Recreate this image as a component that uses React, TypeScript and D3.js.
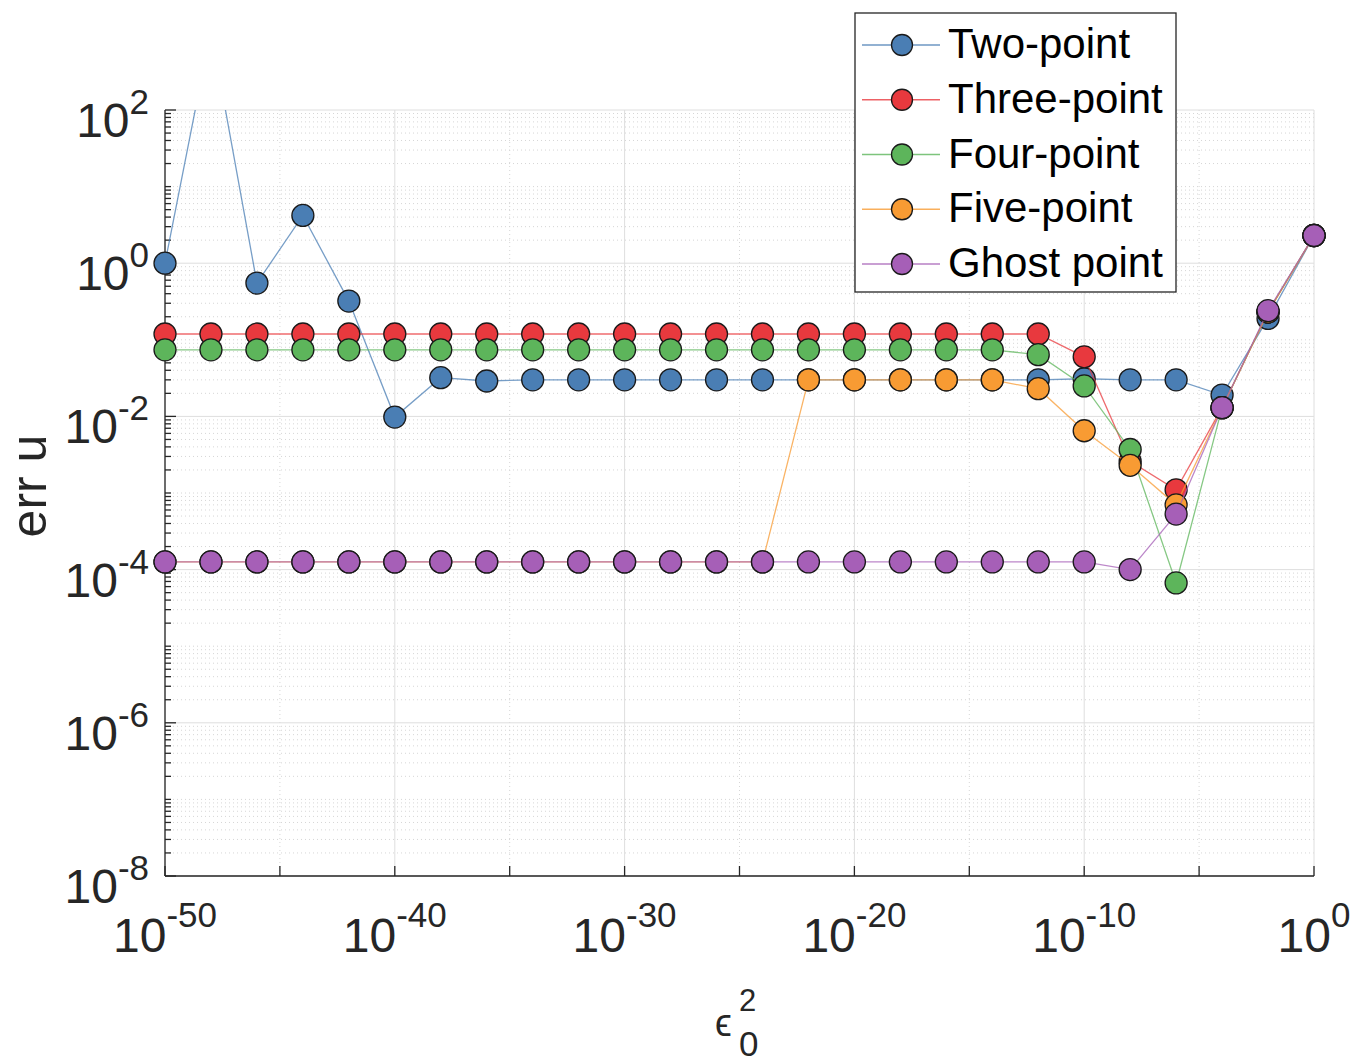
import React from 'react';
import * as d3 from 'd3';

// x values are 10^e for these exponents
const xExponents = [-50, -48, -46, -44, -42, -40, -38, -36, -34, -32, -30, -28, -26, -24, -22, -20, -18, -16, -14, -12, -10, -8, -6, -4, -2, 0];

const twoPoint = [1.0, 1100, 0.55, 4.2, 0.32, 0.0098, 0.032, 0.029, 0.030, 0.030, 0.030, 0.030, 0.030, 0.030, 0.030, 0.030, 0.030, 0.030, 0.030, 0.030, 0.031, 0.030, 0.030, 0.019, 0.19, 2.3];
const threePoint = [0.119, 0.119, 0.119, 0.119, 0.119, 0.119, 0.119, 0.119, 0.119, 0.119, 0.119, 0.119, 0.119, 0.119, 0.119, 0.119, 0.119, 0.119, 0.119, 0.119, 0.060, 0.0026, 0.0011, 0.013, 0.23, 2.3];
const fourPoint = [0.074, 0.074, 0.074, 0.074, 0.074, 0.074, 0.074, 0.074, 0.074, 0.074, 0.074, 0.074, 0.074, 0.074, 0.074, 0.074, 0.074, 0.074, 0.074, 0.064, 0.025, 0.0037, 0.000067, 0.013, 0.23, 2.3];
const fivePoint = [0.000126, 0.000126, 0.000126, 0.000126, 0.000126, 0.000126, 0.000126, 0.000126, 0.000126, 0.000126, 0.000126, 0.000126, 0.000126, 0.000126, 0.030, 0.030, 0.030, 0.030, 0.030, 0.023, 0.0065, 0.0023, 0.0007, 0.013, 0.23, 2.3];
const ghostPoint = [0.000126, 0.000126, 0.000126, 0.000126, 0.000126, 0.000126, 0.000126, 0.000126, 0.000126, 0.000126, 0.000126, 0.000126, 0.000126, 0.000126, 0.000126, 0.000126, 0.000126, 0.000126, 0.000126, 0.000126, 0.000126, 0.000100, 0.00053, 0.013, 0.24, 2.3];

const seriesNames = ['Two-point', 'Three-point', 'Four-point', 'Five-point', 'Ghost point'];
const seriesColors = ['#4A7EB4', '#E8393E', '#5DB55B', '#F89B33', '#A65FB7'];
const seriesValues = [twoPoint, threePoint, fourPoint, fivePoint, ghostPoint];

const yTickExponents = [-8, -6, -4, -2, 0, 2];
const xTickExponents = [-50, -40, -30, -20, -10, 0];
const xMinorExponents = [-45, -35, -25, -15, -5];

const FONT = '"Liberation Sans", Arial, Helvetica, sans-serif';

export default function App() {
  const W = 1354, H = 1064;
  const L = 165, R = 1314, T = 110, B = 876;
  const x = d3.scaleLog().domain([1e-50, 1]).range([L, R]);
  const y = d3.scaleLog().domain([1e-8, 1e2]).range([B, T]);

  const line = d3.line<number>()
    .x((_, i) => x(Math.pow(10, xExponents[i])))
    .y((v) => y(v));

  const yMinor: number[] = [];
  for (let k = -8; k < 2; k++) {
    for (let m = 1; m <= 9; m++) {
      if (m === 1 && k % 2 === 0) continue;
      yMinor.push(m * Math.pow(10, k));
    }
  }

  return (
    <svg width={W} height={H} style={{ position: 'absolute', left: 0, top: 0, background: '#fff' }} fontFamily={FONT}>
      <defs>
        <clipPath id="plotClip">
          <rect x={L} y={T} width={R - L} height={B - T} />
        </clipPath>
      </defs>
      <rect x={0} y={0} width={W} height={H} fill="#fff" />
      <g stroke="#d6d6d6" strokeWidth={1} strokeDasharray="1,3">
        {yMinor.map((v, i) => (
          <line key={'ym' + i} x1={L} x2={R} y1={y(v)} y2={y(v)} />
        ))}
        {xMinorExponents.map((e) => (
          <line key={'xm' + e} x1={x(Math.pow(10, e))} x2={x(Math.pow(10, e))} y1={T} y2={B} />
        ))}
      </g>
      <g stroke="#dedede" strokeWidth={1}>
        {yTickExponents.map((e) => (
          <line key={'yg' + e} x1={L} x2={R} y1={y(Math.pow(10, e))} y2={y(Math.pow(10, e))} />
        ))}
        {xTickExponents.map((e) => (
          <line key={'xg' + e} x1={x(Math.pow(10, e))} x2={x(Math.pow(10, e))} y1={T} y2={B} />
        ))}
      </g>
      <g stroke="#262626" strokeWidth={1.3}>
        <line x1={L} x2={L} y1={T} y2={B} />
        <line x1={L} x2={R} y1={B} y2={B} />
        {yTickExponents.map((e) => (
          <line key={'yt' + e} x1={L} x2={L + 11} y1={y(Math.pow(10, e))} y2={y(Math.pow(10, e))} />
        ))}
        {yMinor.map((v, i) => (
          <line key={'ymt' + i} x1={L} x2={L + 6} y1={y(v)} y2={y(v)} />
        ))}
        {[...xTickExponents, ...xMinorExponents].map((e) => (
          <line key={'xt' + e} x1={x(Math.pow(10, e))} x2={x(Math.pow(10, e))} y1={B} y2={B - 10} />
        ))}
      </g>
      <g fill="#262626">
        {yTickExponents.map((e) => (
          <text key={'yl' + e} x={149} y={y(Math.pow(10, e)) + 27} textAnchor="end">
            <tspan fontSize={48}>10</tspan>
            <tspan fontSize={35} dy={-23}>{e}</tspan>
          </text>
        ))}
        {xTickExponents.map((e) => (
          <text key={'xl' + e} x={x(Math.pow(10, e))} y={952} textAnchor="middle">
            <tspan fontSize={48}>10</tspan>
            <tspan fontSize={35} dy={-25}>{e}</tspan>
          </text>
        ))}
      </g>
      <text transform="translate(46,486) rotate(-90)" textAnchor="middle" fontSize={50} fill="#262626">err u</text>
      <g fill="#262626">
        <text x={715} y={1036} fontSize={38}>ϵ</text>
        <text x={739} y={1011} fontSize={31}>2</text>
        <text x={739} y={1056} fontSize={35}>0</text>
      </g>
      {seriesValues.map((vals, si) => (
        <g key={'s' + si}>
          <path d={line(vals) || ''} fill="none" stroke={seriesColors[si]} strokeOpacity={0.75} strokeWidth={1.3} clipPath="url(#plotClip)" />
          {vals.map((v, i) => (v <= 1e2 && v >= 1e-8) ? (
            <circle key={i} cx={x(Math.pow(10, xExponents[i]))} cy={y(v)} r={11} fill={seriesColors[si]} stroke="#1a1a1a" strokeWidth={1.3} />
          ) : null)}
        </g>
      ))}
      <g>
        <rect x={855} y={13} width={321} height={279} fill="#fff" stroke="#262626" strokeWidth={1.3} />
        {seriesNames.map((name, i) => {
          const cy = 45 + i * 54.75;
          return (
            <g key={'lg' + i}>
              <line x1={862} x2={940} y1={cy} y2={cy} stroke={seriesColors[i]} strokeOpacity={0.8} strokeWidth={1.3} />
              <circle cx={902} cy={cy} r={10.5} fill={seriesColors[i]} stroke="#1a1a1a" strokeWidth={1.3} />
              <text x={948} y={cy + 13} fontSize={42} fill="#000">{name}</text>
            </g>
          );
        })}
      </g>
    </svg>
  );
}
